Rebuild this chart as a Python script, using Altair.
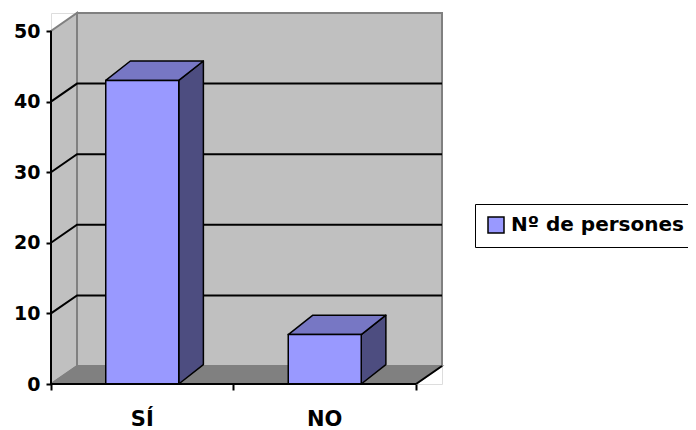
import altair as alt
import pandas as pd

# ---- data ----
categories = ["SÍ", "NO"]
values = [43, 7]
series_name = "Nº de persones"
y_ticks = [0, 10, 20, 30, 40, 50]

# ---- 3-D styling (sizes / colours) ----
Y_MAX = 50
N = len(categories)
DX, DY = 0.1425, 2.55      # wall depth (x in category units, y in value units)
BDX, BDY = 0.135, 2.75     # bar depth
HW = 0.2                   # half bar width
WALL, WALL_EDGE, FLOOR = "#c0c0c0", "#808080", "#808080"
FRONT, TOP, SIDE = "#9999ff", "#7777c4", "#4d4d80"
FONT = "DejaVu Sans"

xs = alt.Scale(domain=[0, N + DX], nice=False, zero=False)
ys = alt.Scale(domain=[0, Y_MAX + DY], nice=False, zero=False)

X_AXIS = alt.Axis(values=list(range(N + 1)), tickSize=6, tickWidth=2, tickColor="black",
                  labels=False, domain=False, grid=False, title=None)
Y_AXIS = alt.Axis(values=y_ticks, tickSize=5, tickWidth=2, tickColor="black",
                  labelFont=FONT, labelFontWeight="bold", labelFontSize=19, labelColor="black",
                  labelPadding=6, domain=False, grid=False, title=None, zindex=1)


def QX(f):
    return alt.X(f, type="quantitative", scale=xs, axis=X_AXIS, stack=None)


def QY(f):
    return alt.Y(f, type="quantitative", scale=ys, axis=Y_AXIS, stack=None)


# ---- frames built from the arrays ----
back_df = pd.DataFrame({"x": [DX], "x2": [N + DX], "y": [DY], "y2": [Y_MAX + DY]})
left_df = pd.DataFrame({"x": [0, DX], "y": [0, DY], "y2": [Y_MAX, Y_MAX + DY]})
floor_df = pd.DataFrame({"y": [0, DY], "x": [0, DX], "x2": [N, N + DX]})

grid_rows = []
for v in y_ticks[1:-1]:
    grid_rows += [
        {"v": v, "o": 0, "x": 0, "y": v},
        {"v": v, "o": 1, "x": DX, "y": v + DY},
        {"v": v, "o": 2, "x": N + DX, "y": v + DY},
    ]
grid_df = pd.DataFrame(grid_rows)

front_rows, side_rows, top_rows, label_rows = [], [], [], []
for i, (c, v) in enumerate(zip(categories, values)):
    cx = i + 0.5
    front_rows.append({"cat": c, "series": series_name, "x": cx - HW, "x2": cx + HW, "y": 0, "y2": v})
    side_rows += [
        {"cat": c, "x": cx + HW, "y": 0, "y2": v},
        {"cat": c, "x": cx + HW + BDX, "y": BDY, "y2": v + BDY},
    ]
    top_rows += [
        {"cat": c, "y": v, "x": cx - HW, "x2": cx + HW},
        {"cat": c, "y": v + BDY, "x": cx - HW + BDX, "x2": cx + HW + BDX},
    ]
    label_rows.append({"cat": c, "x": cx, "y": 0})
front_df = pd.DataFrame(front_rows)
side_df = pd.DataFrame(side_rows)
top_df = pd.DataFrame(top_rows)
label_df = pd.DataFrame(label_rows)

axis_df = pd.DataFrame({"x": [0], "y": [0], "y2": [Y_MAX]})
floor_front_df = pd.DataFrame({"y": [0], "x": [0], "x2": [N]})
floor_right_df = pd.DataFrame({"x": [N, N + DX], "y": [0, DY]})

# ---- layers ----
back = alt.Chart(back_df).mark_rect(fill=WALL, stroke=WALL_EDGE, strokeWidth=2).encode(
    x=QX("x"), x2="x2:Q", y=QY("y"), y2="y2:Q")

left = alt.Chart(left_df).mark_area(orient="vertical", fill=WALL, stroke=WALL_EDGE, strokeWidth=2).encode(
    x=QX("x"), y=QY("y"), y2="y2:Q")

floor = alt.Chart(floor_df).mark_area(orient="horizontal", fill=FLOOR, stroke=WALL_EDGE, strokeWidth=1.5).encode(
    y=QY("y"), x=QX("x"), x2="x2:Q")

grid = alt.Chart(grid_df).mark_line(color="black", strokeWidth=2).encode(
    x=QX("x"), y=QY("y"), detail="v:N", order="o:Q")

axis_line = alt.Chart(axis_df).mark_rule(color="black", strokeWidth=2).encode(
    x=QX("x"), y=QY("y"), y2="y2:Q")
floor_front = alt.Chart(floor_front_df).mark_rule(color="black", strokeWidth=2).encode(
    y=QY("y"), x=QX("x"), x2="x2:Q")
floor_right = alt.Chart(floor_right_df).mark_line(color="black", strokeWidth=2).encode(
    x=QX("x"), y=QY("y"))

side = alt.Chart(side_df).mark_area(orient="vertical", fill=SIDE, stroke="black", strokeWidth=1.5,
                                    strokeJoin="round").encode(
    x=QX("x"), y=QY("y"), y2="y2:Q", detail="cat:N")
top = alt.Chart(top_df).mark_area(orient="horizontal", fill=TOP, stroke="black", strokeWidth=1.5,
                                  strokeJoin="round").encode(
    y=QY("y"), x=QX("x"), x2="x2:Q", detail="cat:N")
front = alt.Chart(front_df).mark_rect(stroke="black", strokeWidth=1.5, opacity=1).encode(
    x=QX("x"), x2="x2:Q", y=QY("y"), y2="y2:Q",
    color=alt.Color("series:N", scale=alt.Scale(domain=[series_name], range=[FRONT]),
                    legend=alt.Legend(
                        title=None, orient="none", legendX=424, legendY=191,
                        strokeColor="black", fillColor="white", padding=11,
                        symbolType="square", symbolSize=256, symbolStrokeColor="black",
                        symbolStrokeWidth=1.5, symbolOpacity=1,
                        labelFont=FONT, labelFontWeight="bold", labelFontSize=20,
                        labelColor="black", labelOffset=5, labelLimit=400)),
)

labels = alt.Chart(label_df).mark_text(font=FONT, fontWeight="bold", fontSize=21, color="black",
                                       baseline="alphabetic", dy=42).encode(
    x=QX("x"), y=QY("y"), text="cat:N")

chart = alt.layer(
    back, left, floor, grid, floor_right, side, top, front, axis_line, floor_front, labels
).properties(
    width=391, height=371,
    padding={"left": 43, "top": 5, "right": 246, "bottom": 46},
    autosize=alt.AutoSizeParams(type="none"),
).configure_view(stroke=None).configure(background="white")

chart.save("out.html", embed_options={"renderer": "svg", "actions": False})
